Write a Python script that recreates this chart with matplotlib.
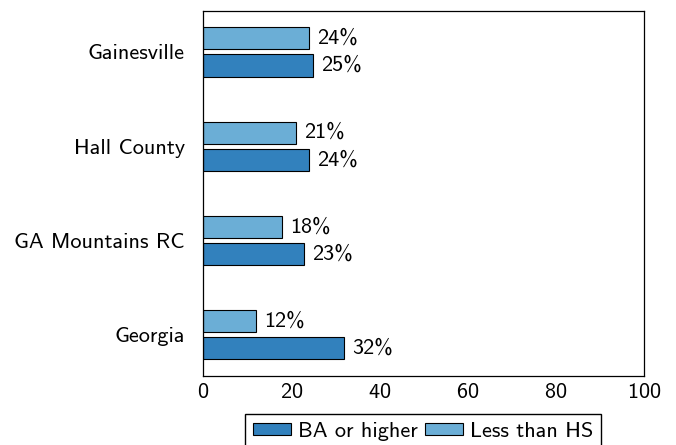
import numpy as np
import matplotlib.pyplot as plt
from matplotlib.patches import Patch

plt.rcParams['font.family'] = ['cmss10', 'DejaVu Sans']
plt.rcParams['axes.formatter.use_mathtext'] = True

# data (top to bottom in the chart)
regions = ["Gainesville", "Hall County", "GA Mountains RC", "Georgia"]
ba_or_higher = [25, 24, 23, 32]
less_than_hs = [24, 21, 18, 12]
xticks = [0, 20, 40, 60, 80, 100]

dark = '#3281bd'
light = '#6baed6'
fs = 16

fig = plt.figure(figsize=(6.76, 4.45), dpi=100)
ax = fig.add_axes([203/676, 1-376/445, (644-203)/676, (376-10.5)/445])

y = np.arange(len(regions))[::-1]
h = 0.235
off = 0.144

b1 = ax.barh(y - off, ba_or_higher, height=h, color=dark, edgecolor='black', linewidth=0.8)
b2 = ax.barh(y + off, less_than_hs, height=h, color=light, edgecolor='black', linewidth=0.8)

for bars, vals in [(b1, ba_or_higher), (b2, less_than_hs)]:
    for rect, v in zip(bars, vals):
        ax.text(v + 1.8, rect.get_y() + rect.get_height()/2, f"{v}%",
                va='center', ha='left', fontsize=fs)

ax.set_xlim(0, 100)
ax.set_ylim(-0.44, 3.44)
ax.set_xticks(xticks)
ax.set_yticks(y)
ax.set_yticklabels(regions)
ax.tick_params(axis='y', length=0, labelsize=fs, pad=13)
ax.tick_params(axis='x', length=0, labelsize=fs, pad=5)
for s in ax.spines.values():
    s.set_linewidth(0.9)

handles = [Patch(facecolor=dark, edgecolor='black', linewidth=0.8),
           Patch(facecolor=light, edgecolor='black', linewidth=0.8)]
fig.legend(handles, ["BA or higher", "Less than HS"], ncol=2, loc='upper center',
           bbox_to_anchor=(423/676, 1-414/445), fontsize=fs, frameon=True,
           fancybox=False, edgecolor='black', framealpha=1,
           handlelength=1.71, handleheight=0.5, handletextpad=0.3,
           columnspacing=0.35, borderpad=0.35, borderaxespad=0)

fig.savefig("out.png", dpi=100)
